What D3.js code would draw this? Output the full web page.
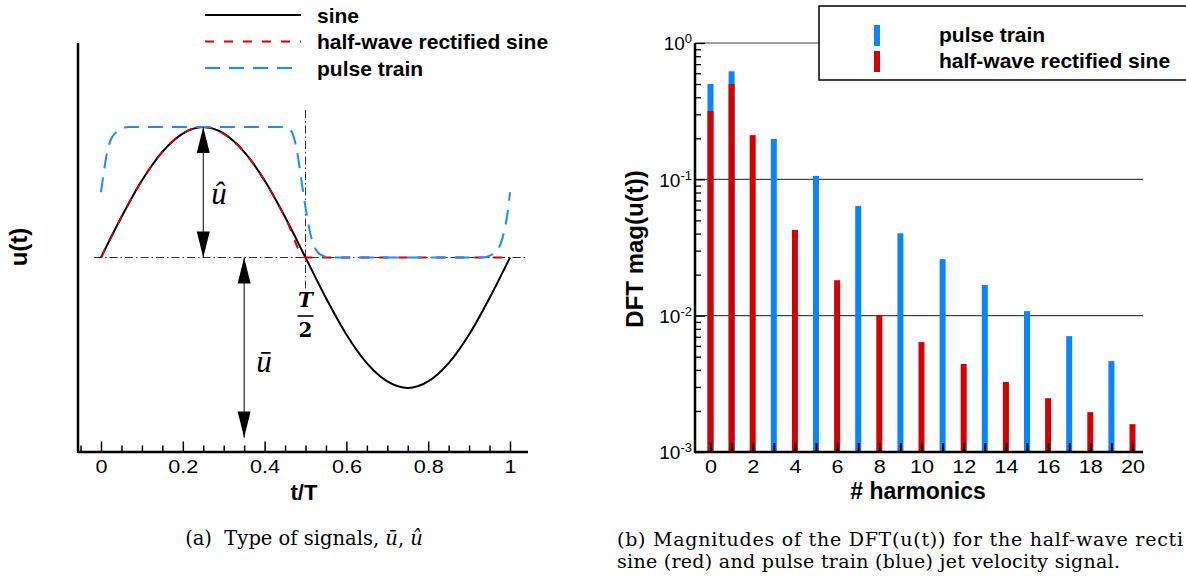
<!DOCTYPE html>
<html>
<head>
<meta charset="utf-8">
<script src="https://cdn.jsdelivr.net/npm/d3@7"></script>
<style>
  body { margin: 0; background: #fff; }
  svg { display: block; }
  .sans { font-family: "Liberation Sans", Arial, Helvetica, sans-serif; }
  .serif { font-family: "DejaVu Serif", serif; }
</style>
</head>
<body>
<svg id="fig" width="1186" height="576"></svg>
<script>
// ---- data: left panel (signals over one period) ----
const tSine = [0, 0.05, 0.1, 0.15, 0.2, 0.25, 0.3, 0.35, 0.4, 0.45, 0.5,
               0.55, 0.6, 0.65, 0.7, 0.75, 0.8, 0.85, 0.9, 0.95, 1];
const sineU = [0, 0.31, 0.59, 0.81, 0.95, 1, 0.95, 0.81, 0.59, 0.31, 0,
               -0.31, -0.59, -0.81, -0.95, -1, -0.95, -0.81, -0.59, -0.31, 0];
const halfWaveU = [0, 0.31, 0.59, 0.81, 0.95, 1, 0.95, 0.81, 0.59, 0.31, 0,
                   0, 0, 0, 0, 0, 0, 0, 0, 0, 0];
const tPulse = [0, 0.008, 0.016, 0.025, 0.034, 0.05, 0.07, 0.45, 0.465, 0.479, 0.491,
                0.504, 0.516, 0.53, 0.545, 0.56, 0.93, 0.955, 0.972, 0.985, 0.993, 1];
const pulseU = [0.5, 0.68, 0.82, 0.91, 0.95, 0.99, 1, 1, 0.97, 0.82, 0.57,
                0.31, 0.13, 0.04, 0.01, 0, 0, 0.02, 0.07, 0.19, 0.32, 0.5];
const tMajor = [0, 0.2, 0.4, 0.6, 0.8, 1];
const tMinor = [-0.05, 0.05, 0.1, 0.15, 0.25, 0.3, 0.35, 0.45, 0.5, 0.55, 0.65, 0.7, 0.75, 0.85, 0.9, 0.95];
const uBarBottom = -1.38;   // where the u-bar arrow ends

// ---- data: right panel (DFT magnitudes) ----
const harmonics = [0, 1, 2, 3, 4, 5, 6, 7, 8, 9, 10, 11, 12, 13, 14, 15, 16, 17, 18, 19, 20];
const pulseMag = [0.50, 0.62, null, 0.198, null, 0.106, null, 0.0637, null, 0.0402, null,
                  0.026, null, 0.0168, null, 0.0108, null, 0.00708, null, 0.00464, null];
const halfWaveMag = [0.317, 0.50, 0.211, null, 0.0425, null, 0.0182, null, 0.0101, null, 0.0064,
                     null, 0.00442, null, 0.00326, null, 0.00248, null, 0.00196, null, 0.0016];
const decades = [1e-3, 1e-2, 1e-1, 1];
const decadeExp = ["-3", "-2", "-1", "0"];
const gridDecades = [1e-2, 1e-1, 1];
const hLabels = [0, 2, 4, 6, 8, 10, 12, 14, 16, 18, 20];

const RED = "#d40000", BLUE = "#0a84ff", BLUE_LINE = "#1a8cff";

const svg = d3.select("#fig");

// ================= left panel =================
const xL = d3.scaleLinear().domain([0, 1]).range([101, 510]);
const yL = d3.scaleLinear().domain([-1, 1]).range([388, 127]);
const gL = svg.append("g");

// dash-dot reference lines
gL.append("line")
    .attr("x1", xL(-0.017)).attr("x2", xL(1.04))
    .attr("y1", yL(0)).attr("y2", yL(0))
    .attr("stroke", "#333").attr("stroke-width", 1)
    .attr("stroke-dasharray", "8,3,1.5,3");
gL.append("line")
    .attr("x1", xL(0.5)).attr("x2", xL(0.5))
    .attr("y1", 110).attr("y2", 290)
    .attr("stroke", "#333").attr("stroke-width", 1)
    .attr("stroke-dasharray", "8,3,1.5,3");

const lineSine = d3.line()
    .x((d, i) => xL(tSine[i])).y(d => yL(d))
    .curve(d3.curveMonotoneX);
const linePulse = d3.line()
    .x((d, i) => xL(tPulse[i])).y(d => yL(d))
    .curve(d3.curveMonotoneX);

gL.append("path").attr("d", lineSine(sineU))
    .attr("fill", "none").attr("stroke", "#000").attr("stroke-width", 2);
gL.append("path").attr("d", lineSine(halfWaveU))
    .attr("fill", "none").attr("stroke", RED).attr("stroke-width", 2)
    .attr("stroke-dasharray", "9,10");
gL.append("path").attr("d", linePulse(pulseU))
    .attr("fill", "none").attr("stroke", BLUE_LINE).attr("stroke-width", 2)
    .attr("stroke-dasharray", "15,9");

// double arrows
function arrow(x, y1, y2) {
    gL.append("line").attr("x1", x).attr("x2", x).attr("y1", y1).attr("y2", y2)
        .attr("stroke", "#000").attr("stroke-width", 1);
    [[y1, 1], [y2, -1]].forEach(([y, dir]) => {
        gL.append("path")
            .attr("d", `M${x},${y}L${x - 6.5},${y + dir * 26}L${x + 6.5},${y + dir * 26}Z`)
            .attr("fill", "#000");
    });
}
arrow(xL(0.25), yL(1), yL(0));
arrow(xL(0.35), yL(0), yL(uBarBottom));

gL.append("text")
    .attr("x", 219).attr("y", 204).attr("text-anchor", "middle")
    .style("font-family", "'Liberation Serif', serif")
    .style("font-style", "italic").style("font-size", "31px").text("û");
gL.append("text")
    .attr("x", 264).attr("y", 372).attr("text-anchor", "middle")
    .style("font-family", "'Liberation Serif', serif")
    .style("font-style", "italic").style("font-size", "31px").text("ū");

// T/2
gL.append("text").attr("class", "serif")
    .attr("x", xL(0.5)).attr("y", 307).attr("text-anchor", "middle")
    .style("font-style", "italic").style("font-weight", "bold").style("font-size", "20px").text("T");
gL.append("line").attr("x1", xL(0.5) - 8).attr("x2", xL(0.5) + 8)
    .attr("y1", 316).attr("y2", 316).attr("stroke", "#000").attr("stroke-width", 1.6);
gL.append("text").attr("class", "serif")
    .attr("x", xL(0.5)).attr("y", 337).attr("text-anchor", "middle")
    .style("font-weight", "bold").style("font-size", "20px").text("2");

// axes
const axL = gL.append("g").attr("transform", "translate(0,452)");
axL.call(d3.axisBottom(xL).tickValues(tMinor).tickSize(-6.5).tickFormat(""));
axL.call(g => g.select(".domain").remove());
const axL2 = gL.append("g").attr("transform", "translate(0,452)");
axL2.call(d3.axisBottom(xL).tickValues(tMajor).tickSize(-10.5).tickPadding(8)
    .tickFormat(d => d === 0 || d === 1 ? d3.format("d")(d) : d3.format(".1f")(d)));
axL2.select(".domain").remove();
[axL, axL2].forEach(a => a.selectAll(".tick line").attr("stroke", "#000").attr("stroke-width", 1.5));
axL2.selectAll("text").attr("class", "sans").style("font-size", "18px").attr("fill", "#000")
    .attr("transform", "scale(1.2,1)");

gL.append("line").attr("x1", 78).attr("x2", 528).attr("y1", 452).attr("y2", 452)
    .attr("stroke", "#000").attr("stroke-width", 2.5);
gL.append("line").attr("x1", 78).attr("x2", 78).attr("y1", 43).attr("y2", 453)
    .attr("stroke", "#000").attr("stroke-width", 2.5);

gL.append("text").attr("class", "sans")
    .attr("x", 304).attr("y", 500).attr("text-anchor", "middle")
    .style("font-weight", "bold").style("font-size", "22px").text("t/T");
gL.append("text").attr("class", "sans")
    .attr("transform", "translate(27,247) rotate(-90)").attr("text-anchor", "middle")
    .style("font-weight", "bold").style("font-size", "24px").text("u(t)");

// left legend
const legL = [
    { name: "sine", color: "#000", dash: null },
    { name: "half-wave rectified sine", color: RED, dash: "9,10" },
    { name: "pulse train", color: BLUE_LINE, dash: "15,9" }
];
legL.forEach((d, i) => {
    const y = 15 + i * 26.5;
    gL.append("line").attr("x1", 205).attr("x2", 301).attr("y1", y).attr("y2", y)
        .attr("stroke", d.color).attr("stroke-width", 2)
        .attr("stroke-dasharray", d.dash);
    gL.append("text").attr("class", "sans").attr("x", 317).attr("y", y + 7.5)
        .style("font-weight", "bold").style("font-size", "21px").text(d.name);
});

// caption (a)
const capA = svg.append("text").attr("class", "serif")
    .attr("x", 304).attr("y", 545).attr("text-anchor", "middle")
    .style("font-size", "19.5px").attr("xml:space", "preserve");
capA.append("tspan").text("(a)  Type of signals, ");
capA.append("tspan").style("font-style", "italic").text("ū");
capA.append("tspan").text(", ");
capA.append("tspan").style("font-style", "italic").text("û");

// ================= right panel =================
const xR = d3.scaleLinear().domain([0, 20]).range([710.5, 1132.5]);
const yR = d3.scaleLog().domain([1e-3, 1]).range([452, 43]);
const gR = svg.append("g");

// grid
gR.selectAll("line.grid").data(gridDecades).join("line").attr("class", "grid")
    .attr("x1", 695).attr("x2", 1143)
    .attr("y1", d => yR(d)).attr("y2", d => yR(d))
    .attr("stroke", "#444").attr("stroke-width", 1.2);

// bars
const barW = 6;
gR.selectAll("rect.pulse").data(harmonics.filter((h, i) => pulseMag[i] != null)).join("rect")
    .attr("class", "pulse")
    .attr("x", d => xR(d) - barW / 2).attr("width", barW)
    .attr("y", d => yR(pulseMag[d])).attr("height", d => 452 - yR(pulseMag[d]))
    .attr("fill", BLUE);
gR.selectAll("rect.half").data(harmonics.filter((h, i) => halfWaveMag[i] != null)).join("rect")
    .attr("class", "half")
    .attr("x", d => xR(d) - barW / 2).attr("width", barW)
    .attr("y", d => yR(halfWaveMag[d])).attr("height", d => 452 - yR(halfWaveMag[d]))
    .attr("fill", RED);

// x axis
const axR = gR.append("g").attr("transform", "translate(0,452)");
axR.call(d3.axisBottom(xR).tickValues(harmonics).tickSize(-9).tickPadding(8)
    .tickFormat(d => hLabels.includes(d) ? d : ""));
axR.select(".domain").remove();
axR.selectAll(".tick line").attr("stroke", "#000").attr("stroke-width", 2);
axR.selectAll("text").attr("class", "sans").style("font-size", "18px").attr("fill", "#000")
    .attr("transform", "scale(1.2,1)");

// y axis
const minor = [];
decades.slice(0, 3).forEach(p => { for (let k = 2; k <= 9; k++) minor.push(p * k); });
const ayMin = gR.append("g").attr("transform", "translate(695,0)");
ayMin.call(d3.axisLeft(yR).tickValues(minor).tickSize(-6).tickFormat(""));
ayMin.select(".domain").remove();
const ay = gR.append("g").attr("transform", "translate(695,0)");
ay.call(d3.axisLeft(yR).tickValues(decades).tickSize(-10).tickPadding(3).tickFormat(""));
ay.select(".domain").remove();
[ayMin, ay].forEach(a => a.selectAll(".tick line").attr("stroke", "#000").attr("stroke-width", 1.3));
ay.selectAll(".tick text").each(function(d, i) {
    const t = d3.select(this).attr("class", "sans").attr("fill", "#000")
        .style("font-size", "19px").attr("dy", "0.36em");
    t.append("tspan").text("10");
    t.append("tspan").attr("dy", "-0.55em").style("font-size", "13px").text(decadeExp[i]);
});

gR.append("line").attr("x1", 695).attr("x2", 1143).attr("y1", 452).attr("y2", 452)
    .attr("stroke", "#000").attr("stroke-width", 2.5);
gR.append("line").attr("x1", 695).attr("x2", 695).attr("y1", 43).attr("y2", 453)
    .attr("stroke", "#000").attr("stroke-width", 2.5);

gR.append("text").attr("class", "sans")
    .attr("x", 918).attr("y", 499).attr("text-anchor", "middle")
    .style("font-weight", "bold").style("font-size", "23px").text("# harmonics");
gR.append("text").attr("class", "sans")
    .attr("transform", "translate(643,249) rotate(-90)").attr("text-anchor", "middle")
    .style("font-weight", "bold").style("font-size", "24px").text("DFT mag(u(t))");

// right legend
gR.append("rect").attr("x", 819).attr("y", 6).attr("width", 380).attr("height", 74)
    .attr("fill", "#fff").attr("stroke", "#000").attr("stroke-width", 1.5);
const legR = [
    { name: "pulse train", color: BLUE },
    { name: "half-wave rectified sine", color: RED }
];
legR.forEach((d, i) => {
    gR.append("rect").attr("x", 874).attr("y", 25 + i * 26).attr("width", 6).attr("height", 21)
        .attr("fill", d.color);
    gR.append("text").attr("class", "sans").attr("x", 939).attr("y", 42 + i * 26)
        .style("font-weight", "bold").style("font-size", "21px").text(d.name);
});

// caption (b) - first line is cut at the page edge in the source, as here
svg.append("text").attr("class", "serif")
    .attr("x", 617).attr("y", 546).style("font-size", "19px")
    .attr("textLength", 566).attr("lengthAdjust", "spacing")
    .text("(b) Magnitudes of the DFT(u(t)) for the half-wave recti");
svg.append("text").attr("class", "serif")
    .attr("x", 617).attr("y", 568).style("font-size", "19px")
    .attr("textLength", 503).attr("lengthAdjust", "spacing")
    .text("sine (red) and pulse train (blue) jet velocity signal.");
</script>
</body>
</html>
